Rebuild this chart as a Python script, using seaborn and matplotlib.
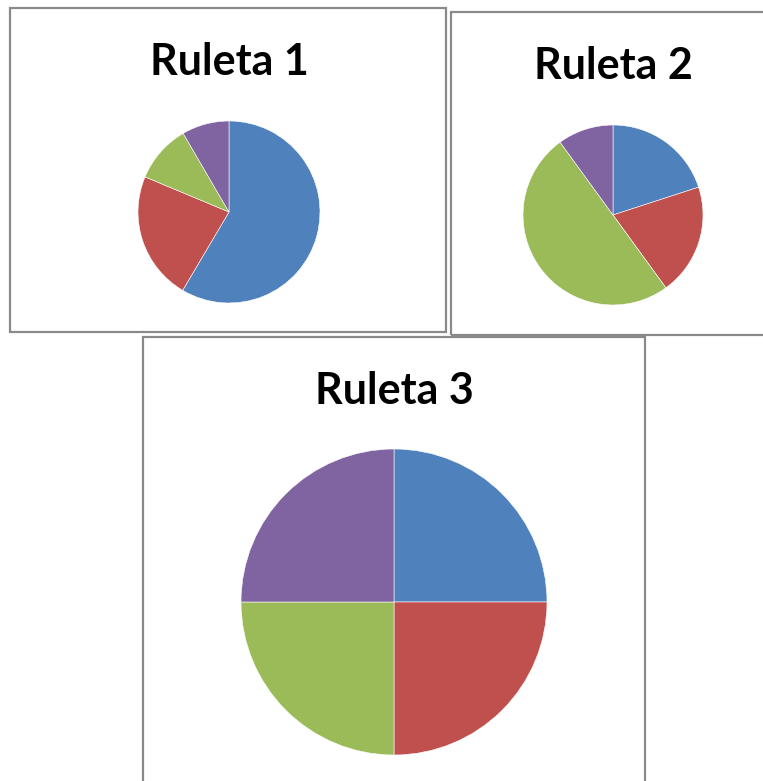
import matplotlib
matplotlib.use("Agg")
import matplotlib.pyplot as plt
from matplotlib.patches import Rectangle
import seaborn as sns

# Slice shares for each roulette wheel (blue, red, green, purple)
ruleta1 = [58.5, 22.8, 10.3, 8.4]
ruleta2 = [20, 20, 50, 10]
ruleta3 = [25, 25, 25, 25]
titles = ["Ruleta 1", "Ruleta 2", "Ruleta 3"]

colors = ["#4F81BD", "#C0504D", "#9BBB59", "#8064A2"]

sns.set_theme(style="white")
plt.rcParams["font.family"] = ["Lato", "DejaVu Sans"]

W, H = 763, 781
fig = plt.figure(figsize=(W / 100, H / 100), dpi=100)
fig.patch.set_facecolor("white")


def fig_box(x0, y0, x1, y1):
    """Pixel box (top-left origin) -> figure-fraction rect."""
    return [x0 / W, 1 - y1 / H, (x1 - x0) / W, (y1 - y0) / H]


# chart frames
frames = [(10, 8, 446, 332), (451, 12, 790, 335), (143, 337, 645, 800)]
for x0, y0, x1, y1 in frames:
    l, b, w, h = fig_box(x0, y0, x1, y1)
    fig.add_artist(Rectangle((l, b), w, h, transform=fig.transFigure,
                             fill=False, edgecolor="#8a8a8a", linewidth=1.6))

# pie centers and radii in pixels, plus title anchor
layout = [
    dict(cx=229, cy=212, r=91, tx=229, ty=75),
    dict(cx=613, cy=215, r=90, tx=613, ty=79),
    dict(cx=394, cy=602, r=153, tx=394, ty=404),
]

for data, title, lay in zip([ruleta1, ruleta2, ruleta3], titles, layout):
    cx, cy, r = lay["cx"], lay["cy"], lay["r"]
    ax = fig.add_axes(fig_box(cx - r, cy - r, cx + r, cy + r))
    ax.pie(data, colors=colors, startangle=90, counterclock=False,
           radius=1, wedgeprops=dict(edgecolor="white", linewidth=0.4))
    ax.set_xlim(-1, 1)
    ax.set_ylim(-1, 1)
    ax.set_aspect("equal")
    ax.axis("off")
    fig.text(lay["tx"] / W, 1 - lay["ty"] / H, title, ha="center",
             va="baseline", fontsize=31, fontweight="bold", color="black")

fig.savefig("out.png", dpi=100, facecolor="white")
